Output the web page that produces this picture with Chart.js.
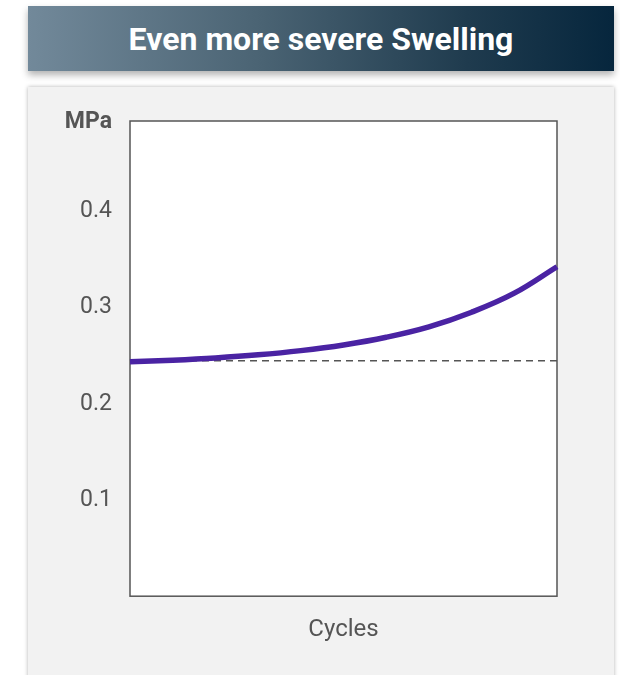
<!DOCTYPE html>
<html>
<head>
<meta charset="utf-8">
<script src="https://cdn.jsdelivr.net/npm/chart.js@4"></script>
<style>
  html, body { margin: 0; padding: 0; background: #fff; overflow: hidden; }
  body { width: 620px; height: 675px; position: relative; font-family: Roboto, "Noto Sans", sans-serif; }
  .banner {
    position: absolute; left: 28px; top: 6px; width: 586px; height: 65px;
    background: linear-gradient(to right, #72899a 0%, #4a6373 40%, #1f3b4e 75%, #06263d 100%);
    box-shadow: 0 4px 7px rgba(0,0,0,0.3);
    color: #fff; font-weight: bold; font-size: 32px;
    display: flex; align-items: center; justify-content: center;
  }
  .card {
    position: absolute; left: 28px; top: 87px; width: 586px; height: 620px;
    background: #f2f2f2;
    box-shadow: 0 0 4px rgba(0,0,0,0.3);
  }
  .card canvas { position: absolute; left: 0; top: 0; }
</style>
</head>
<body>
<div class="banner">Even more severe Swelling</div>
<div class="card">
  <canvas id="swellingChart" width="586" height="588"></canvas>
</div>
<script>
// Cycles (relative position along the axis)
var cycles = [0, 1, 2, 3, 4, 5, 6, 7, 8, 9, 10];
// Stress in MPa
var stress = [0.2437, 0.2454, 0.2477, 0.2509, 0.2553, 0.2612, 0.2692, 0.2800, 0.2952, 0.3150, 0.3425];
// Reference level (dashed)
var baseline = [0.2448, 0.2448, 0.2448, 0.2448, 0.2448, 0.2448, 0.2448, 0.2448, 0.2448, 0.2448, 0.2448];
var yTicks = [0.1, 0.2, 0.3, 0.4];

var plotFrame = {
    id: 'plotFrame',
    beforeDatasetsDraw: function (chart) {
        var a = chart.chartArea, ctx = chart.ctx;
        ctx.save();
        ctx.fillStyle = '#ffffff';
        ctx.fillRect(a.left, a.top, a.right - a.left, a.bottom - a.top);
        ctx.strokeStyle = '#555555';
        ctx.lineWidth = 1.5;
        ctx.strokeRect(a.left, a.top, a.right - a.left, a.bottom - a.top);
        ctx.restore();
    },
    afterDraw: function (chart) {
        var a = chart.chartArea, ctx = chart.ctx;
        ctx.save();
        ctx.font = 'bold 23px Roboto';
        ctx.fillStyle = '#555555';
        ctx.textAlign = 'right';
        ctx.textBaseline = 'middle';
        ctx.fillText('MPa', a.left - 18, a.top + 1);
        ctx.restore();
    }
};

var ctx = document.getElementById('swellingChart').getContext('2d');
var swellingChart = new Chart(ctx, {
    type: 'line',
    data: {
        labels: cycles,
        datasets: [{
            data: stress,
            borderColor: '#4a23a3',
            borderWidth: 5.5,
            pointRadius: 0,
            tension: 0.4,
            fill: false
        }, {
            data: baseline,
            borderColor: '#555555',
            borderWidth: 1.5,
            borderDash: [7, 5],
            pointRadius: 0,
            fill: false
        }]
    },
    options: {
        responsive: false,
        animation: false,
        layout: {
            padding: { top: 34, right: 57, bottom: 31, left: 0 }
        },
        plugins: {
            legend: { display: false },
            tooltip: { enabled: false }
        },
        scales: {
            x: {
                grid: { display: false, drawTicks: false },
                border: { display: false },
                ticks: { display: false },
                title: {
                    display: true,
                    text: 'Cycles',
                    color: '#555555',
                    font: { family: 'Roboto', size: 24 },
                    padding: { top: 19, bottom: 0 }
                }
            },
            y: {
                min: 0,
                max: 0.494,
                grid: { display: false, drawTicks: false },
                border: { display: false },
                afterBuildTicks: function (scale) {
                    scale.ticks = yTicks.map(function (v) { return { value: v }; });
                },
                afterFit: function (scale) {
                    scale.width = 102;
                },
                ticks: {
                    padding: 18,
                    color: '#555555',
                    font: { family: 'Roboto', size: 23 },
                    callback: function (v) { return v.toFixed(1); }
                }
            }
        }
    },
    plugins: [plotFrame]
});
</script>
</body>
</html>
